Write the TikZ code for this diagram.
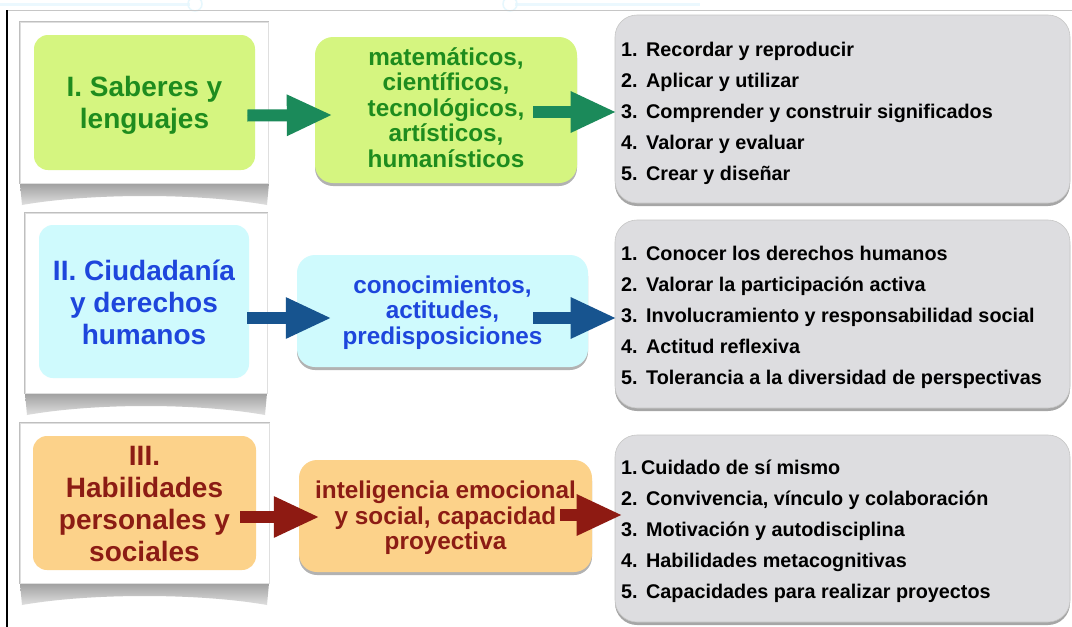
\documentclass[tikz,border=0pt]{standalone}
\usepackage{fontspec}
\setmainfont{Liberation Sans}
\usetikzlibrary{arrows.meta,shadows}
\definecolor{gfill}{RGB}{213,245,128}
\definecolor{gtext}{RGB}{30,140,30}
\definecolor{garrow}{RGB}{27,138,90}
\definecolor{cfill}{RGB}{207,250,253}
\definecolor{ctext}{RGB}{30,70,220}
\definecolor{carrow}{RGB}{23,84,143}
\definecolor{ofill}{RGB}{252,210,138}
\definecolor{otext}{RGB}{140,28,20}
\definecolor{oarrow}{RGB}{142,26,18}
\definecolor{grfill}{RGB}{221,221,224}
\newcommand{\stackc}[2]{\raisebox{#1}[\height][\depth]{\begin{tabular}{@{}c@{}}#2\end{tabular}}}
\begin{document}
\begin{tikzpicture}[x=1pt,y=-1pt,
  frame/.style={draw=gray!25, fill=white, line width=0.6pt, inner sep=0pt,
    drop shadow={shadow xshift=0pt, shadow yshift=0pt, opacity=0.25, fill=black, shadow scale=1.01}},
  inner/.style={rounded corners=14pt, inner sep=0pt, align=center,
    font=\fontsize{28}{32}\selectfont\bfseries},
  midbox/.style={rounded corners=18pt, inner sep=0pt, align=center,
    font=\fontsize{24.3}{25.5}\selectfont\bfseries,
    drop shadow={shadow xshift=0pt, shadow yshift=-3pt, opacity=0.3, fill=black}},
  graybox/.style={rounded corners=22pt, inner sep=0pt, fill=grfill, draw=gray!45, line width=0.6pt,
    drop shadow={shadow xshift=0pt, shadow yshift=-3pt, opacity=0.35, fill=black}},
  list/.style={anchor=west, align=left, inner sep=0pt,
    font=\fontsize{19.8}{31}\selectfont\bfseries},
  bigarrow/.style={line width=12pt, -{Triangle[length=46pt,width=38pt]}},
]
\useasboundingbox (0,0) rectangle (1072,627);
\fill[white] (0,0) rectangle (1072,627);
% faint background hints
\draw[cyan!8, line width=3pt] (0,4) -- (190,4);
\draw[cyan!8, line width=3pt] (515,4) -- (700,4);
\draw[cyan!10, line width=1.5pt] (195,4) circle (7);
\draw[cyan!10, line width=1.5pt] (510,4) circle (7);
% page lines
\draw[gray!45, line width=1pt] (6,10) -- (1072,10);
\draw[black, line width=1.6pt] (7,10) -- (7,627);

% ---- page-curl shadows under frames
\foreach \xa/\xb/\yb in {20/269/183, 25/267/393, 20/269/583}{
  \shade[top color=gray!75, bottom color=gray!25]
    (\xa,\yb) -- (\xa+2,\yb+22) .. controls (\xa+70,\yb+10) and (\xb-70,\yb+10) .. (\xb-2,\yb+22) -- (\xb,\yb) -- cycle;
}

% ---- Row 1
\node[frame, minimum width=248pt, minimum height=161pt] (f1) at (144,102.5) {};
\node[inner, fill=gfill, text=gtext, minimum width=221pt, minimum height=135pt] (a1) at (144.5,102.5)
  {\stackc{-4pt}{I. Saberes y\\lenguajes}};
\node[midbox, fill=gfill, text=gtext, minimum width=262pt, minimum height=146pt] (m1) at (446,110)
  {\stackc{-1pt}{matemáticos,\\científicos,\\tecnológicos,\\artísticos,\\humanísticos}};
\node[graybox, minimum width=455pt, minimum height=188pt] (g1) at (842.5,109) {};
\node[list] (l1) at (621,113) {%
  \makebox[25pt][l]{1.}Recordar y reproducir\\
  \makebox[25pt][l]{2.}Aplicar y utilizar\\
  \makebox[25pt][l]{3.}Comprender y construir significados\\
  \makebox[25pt][l]{4.}Valorar y evaluar\\
  \makebox[25pt][l]{5.}Crear y diseñar};
\draw[bigarrow, draw=garrow, fill=garrow] ([xshift=-21pt,yshift=-13pt]f1.east) -- ([xshift=18pt,yshift=-5pt]m1.west);
\draw[bigarrow, draw=garrow, fill=garrow] ([xshift=-44pt,yshift=-2pt]m1.east) -- ([xshift=2pt,yshift=-3pt]g1.west);

% ---- Row 2
\node[frame, minimum width=242pt, minimum height=180pt] (f2) at (146,303) {};
\node[inner, fill=cfill, text=ctext, minimum width=210pt, minimum height=153pt] (a2) at (144,301.5)
  {\stackc{-4.5pt}{II. Ciudadanía\\y derechos\\humanos}};
\node[midbox, fill=cfill, text=ctext, minimum width=291pt, minimum height=112pt] (m2) at (442.5,311)
  {\stackc{-2.5pt}{conocimientos,\\actitudes,\\predisposiciones}};
\node[graybox, minimum width=455pt, minimum height=188pt] (g2) at (842.5,314) {};
\node[list] (l2) at (621,317.5) {%
  \makebox[25pt][l]{1.}Conocer los derechos humanos\\
  \makebox[25pt][l]{2.}Valorar la participación activa\\
  \makebox[25pt][l]{3.}Involucramiento y responsabilidad social\\
  \makebox[25pt][l]{4.}Actitud reflexiva\\
  \makebox[25pt][l]{5.}Tolerancia a la diversidad de perspectivas};
\draw[bigarrow, draw=carrow, fill=carrow] ([xshift=-20pt,yshift=-15pt]f2.east) -- ([xshift=35pt,yshift=-7pt]m2.west);
\draw[bigarrow, draw=carrow, fill=carrow] ([xshift=-55pt,yshift=-7pt]m2.east) -- ([xshift=2pt,yshift=-4pt]g2.west);

% ---- Row 3
\node[frame, minimum width=249pt, minimum height=160pt] (f3) at (144.5,503) {};
\node[inner, fill=ofill, text=otext, minimum width=223pt, minimum height=134pt] (a3) at (144.5,503)
  {\stackc{-4pt}{III.\\Habilidades\\personales y\\sociales}};
\node[midbox, fill=ofill, text=otext, minimum width=293pt, minimum height=112pt] (m3) at (445.5,516)
  {\stackc{-3pt}{inteligencia emocional\\y social, capacidad\\proyectiva}};
\node[graybox, minimum width=455pt, minimum height=187pt] (g3) at (842.5,528.5) {};
\node[list] (l3) at (621,531.5) {%
  \makebox[20pt][l]{1.}Cuidado de sí mismo\\
  \makebox[25pt][l]{2.}Convivencia, vínculo y colaboración\\
  \makebox[25pt][l]{3.}Motivación y autodisciplina\\
  \makebox[25pt][l]{4.}Habilidades metacognitivas\\
  \makebox[25pt][l]{5.}Capacidades para realizar proyectos};
\draw[bigarrow, draw=oarrow, fill=oarrow] ([xshift=-29pt,yshift=-14pt]f3.east) -- ([xshift=21pt,yshift=-1pt]m3.west);
\draw[bigarrow, draw=oarrow, fill=oarrow] ([xshift=-32pt,yshift=1pt]m3.east) -- ([xshift=8pt,yshift=13.5pt]g3.west);
\end{tikzpicture}
\end{document}
